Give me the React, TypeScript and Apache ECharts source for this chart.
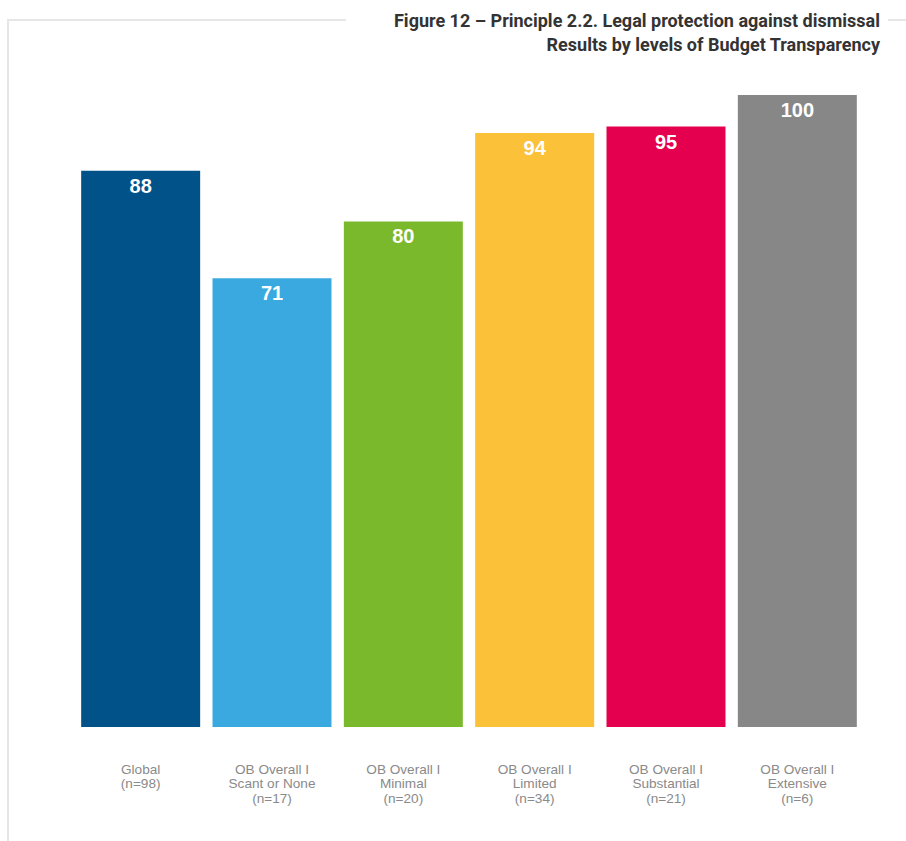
import React, { useEffect, useRef } from "react";
import * as echarts from "echarts";

const categories = [
  "Global\n(n=98)",
  "OB Overall I\nScant or None\n(n=17)",
  "OB Overall I\nMinimal\n(n=20)",
  "OB Overall I\nLimited\n(n=34)",
  "OB Overall I\nSubstantial\n(n=21)",
  "OB Overall I\nExtensive\n(n=6)",
];
const values = [88, 71, 80, 94, 95, 100];
const barColors = ["#02528a", "#3aa9e0", "#7ab92c", "#fbc138", "#e4004f", "#878787"];
const titleLines = [
  "Figure 12 – Principle 2.2. Legal protection against dismissal",
  "Results by levels of Budget Transparency",
];

export default function App() {
  const ref = useRef<HTMLDivElement>(null);

  useEffect(() => {
    if (!ref.current) return;
    const chart = echarts.init(ref.current, undefined, { renderer: "svg" });
    const frame = "#e6e6e6";
    chart.setOption({
      animation: false,
      backgroundColor: "#ffffff",
      grid: { left: 75, right: 43, top: 95, bottom: 114 },
      xAxis: {
        type: "category",
        data: categories,
        axisLine: { show: false },
        axisTick: { show: false },
        axisLabel: {
          interval: 0,
          margin: 35,
          color: "#8a8a8a",
          fontFamily: "Liberation Sans, Arial, sans-serif",
          fontSize: 13.6,
          lineHeight: 14.5,
          verticalAlign: "top",
        },
      },
      yAxis: {
        type: "value",
        min: 0,
        max: 100,
        show: false,
        splitLine: { show: false },
      },
      series: [
        {
          type: "bar",
          barCategoryGap: "9.4%",
          data: values.map((v, i) => ({ value: v, itemStyle: { color: barColors[i] } })),
          label: {
            show: true,
            position: "insideTop",
            distance: 5,
            color: "#ffffff",
            fontWeight: "bold",
            fontSize: 20,
            fontFamily: "Liberation Sans, Arial, sans-serif",
          },
        },
      ],
      graphic: [
        { type: "line", shape: { x1: 7, y1: 20, x2: 346, y2: 20 }, style: { stroke: frame, lineWidth: 2 } },
        { type: "line", shape: { x1: 888, y1: 20, x2: 906, y2: 20 }, style: { stroke: frame, lineWidth: 2 } },
        { type: "line", shape: { x1: 8, y1: 19, x2: 8, y2: 841 }, style: { stroke: frame, lineWidth: 2 } },
        {
          type: "text",
          x: 880,
          y: 8,
          style: {
            text: titleLines.join("\n"),
            align: "right",
            verticalAlign: "top",
            fill: "#333333",
            font: "bold 18px Roboto, sans-serif",
            lineHeight: 24,
          },
        },
      ],
    });
    return () => chart.dispose();
  }, []);

  return (
    <div
      ref={ref}
      style={{ position: "absolute", left: 0, top: 0, width: 906, height: 841 }}
    />
  );
}
